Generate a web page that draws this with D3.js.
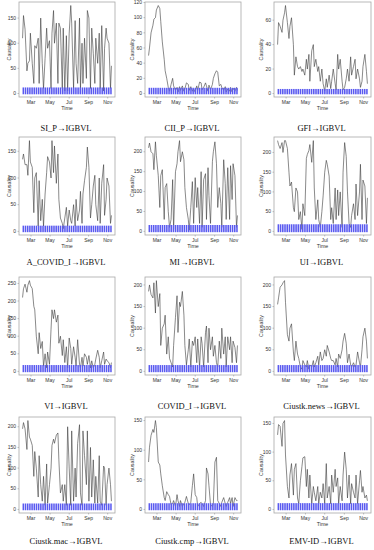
<!DOCTYPE html>
<html><head><meta charset="utf-8">
<script src="https://cdn.jsdelivr.net/npm/d3@7"></script>
<style>body{margin:0;background:#fff}svg{display:block}</style>
</head><body>
<svg id="c" width="374" height="550"></svg>
<script>
// ---------- data ----------
const titles = ["SI_P\u2192IGBVL","CII_P\u2192IGBVL","GFI\u2192IGBVL",
  "A_COVID_I\u2192IGBVL","MI\u2192IGBVL","UI\u2192IGBVL",
  "VI\u2192IGBVL","COVID_I\u2192IGBVL","Ciustk.news\u2192IGBVL",
  "Ciustk.mac\u2192IGBVL","Ciustk.cmp\u2192IGBVL","EMV-ID\u2192IGBVL"];
const startDate = "2020-02-03", endDate = "2020-11-13";
const monthTicks = ["2020-03-01","2020-05-01","2020-07-01","2020-09-01","2020-11-01"];
const monthLabels = ["Mar","May","Jul","Sep","Nov"];

const sSI_P = [110,155,128,45,60,65,120,60,20,95,90,110,20,150,60,10,70,130,90,105,10,120,165,100,140,20,140,130,10,130,5,115,5,120,175,140,10,145,60,20,150,10,100,20,110,30,165,150,10,130,80,20,110,60,120,10,135,5,90,130,110,100,10,55];
const sCII_P = [50,60,80,90,98,100,110,116,112,95,68,45,30,20,8,3,12,20,10,4,8,2,9,4,10,3,6,14,12,4,9,3,6,2,10,4,15,14,5,8,14,10,3,11,5,12,20,26,30,28,10,12,8,4,9,2,6,3,8,2,7,3,8,4];
const sGFI = [40,58,55,50,60,66,72,58,45,55,62,40,15,30,22,20,22,18,20,15,28,20,32,10,35,40,22,28,18,22,10,20,8,2,12,5,15,4,10,20,8,3,32,20,28,10,3,5,12,20,10,30,15,22,28,12,20,12,5,10,22,32,18,8];
const sA_COVID_I = [135,145,125,125,105,170,130,120,35,100,110,10,95,20,60,10,70,110,140,130,100,170,110,160,90,145,60,25,15,5,25,45,10,40,20,15,50,10,60,20,40,75,15,70,95,120,158,120,25,50,85,105,50,20,100,15,90,125,30,60,100,85,15,30];
const sMI = [210,222,200,195,155,225,190,140,60,140,155,30,110,120,50,10,30,130,5,150,170,200,228,175,200,180,110,60,30,3,60,125,20,135,60,110,20,150,10,130,145,30,160,90,20,175,200,225,170,60,110,70,10,180,120,30,160,30,165,80,170,140,10,40];
const sUI = [230,220,210,225,200,230,230,210,150,115,125,60,50,110,100,30,50,5,70,40,185,195,205,220,175,230,110,30,80,30,10,50,90,150,180,170,140,30,60,20,110,30,105,40,100,10,150,225,190,100,20,10,40,70,30,120,40,100,170,30,130,115,20,85];
const sVI = [210,235,248,225,245,258,245,235,185,175,100,50,110,65,85,15,50,10,55,20,120,175,150,175,140,160,80,100,45,90,25,70,10,95,65,20,70,40,15,90,20,10,40,15,50,40,20,45,10,30,10,20,35,60,40,10,30,55,20,35,30,25,10,25];
const sCOVID_I = [185,200,178,170,205,135,210,150,180,60,100,110,130,40,80,30,20,10,60,125,175,90,160,150,185,130,60,15,50,75,10,70,60,80,20,75,10,80,65,10,90,105,20,100,50,80,35,60,20,10,70,30,100,40,80,10,80,50,80,20,70,55,20,60];
const sNews = [155,170,195,200,205,210,160,85,70,100,110,45,25,70,40,30,10,5,25,15,10,25,5,15,10,25,10,20,35,15,45,25,30,50,35,60,45,30,25,25,15,30,10,40,30,50,70,88,65,20,40,15,10,20,10,15,45,20,10,50,80,100,70,30];
const sMac = [195,210,195,145,215,175,170,155,80,140,100,30,130,60,20,80,10,110,15,60,100,155,170,160,180,185,120,40,60,20,60,10,200,100,10,190,20,100,30,160,205,40,10,190,130,60,190,20,150,30,120,15,80,15,130,20,10,105,100,10,60,100,60,20];
const sCmp = [80,105,125,135,130,150,138,80,75,60,40,20,15,30,25,22,8,10,15,5,25,15,5,15,5,10,12,22,10,8,12,40,60,25,20,5,10,12,10,5,15,70,60,40,8,5,10,80,88,15,10,5,12,20,10,5,12,20,10,20,5,20,15,15];
const sEMV = [130,148,145,110,150,155,95,40,20,60,80,25,70,80,20,10,50,75,90,92,40,70,20,60,10,40,30,15,40,10,30,20,45,10,80,20,40,10,60,30,70,40,55,10,40,15,60,100,70,20,60,10,45,30,20,60,10,50,68,30,40,20,25,15];

const thresholds = [12, 7.5, 3.7, 10.7, 16, 18, 18, 14.6, 14.6, 14.4, 10.5, 11];
const yTicks = [[0,50,100,150],[0,20,40,60,80,100,120],[0,20,40,60],
  [0,50,100,150],[0,50,100,150,200],[0,50,100,150,200],
  [0,50,100,150,200,250],[0,50,100,150,200],[0,50,100,150,200],
  [0,50,100,150,200],[0,50,100,150],[0,50,100,150]];
const series = [sSI_P,sCII_P,sGFI,sA_COVID_I,sMI,sUI,sVI,sCOVID_I,sNews,sMac,sCmp,sEMV];

// ---------- layout ----------
const colX = [[19,115],[145,241],[274,371]];
const rowY = [[2,97],[137,235],[277,375],[417,513]];
const titleY = [131,265,409,544];
const ylabOff = [8,11,11];

const svg = d3.select("#c");
const parse = d3.utcParse("%Y-%m-%d");
const t0 = parse(startDate), t1 = parse(endDate);
const tradingDays = d3.utcDay.range(t0, d3.utcDay.offset(t1,1)).filter(d=>d.getUTCDay()>0&&d.getUTCDay()<6);
const weeks = d3.utcMonday.range(t0, d3.utcDay.offset(t1,1));
const span = t1 - t0;
const xDom = [new Date(+t0 - 0.04*span), new Date(+t1 + 0.04*span)];

series.forEach((s,k)=>{
  const col = k%3, row = Math.floor(k/3);
  const [x0,x1] = colX[col], [y0,y1] = rowY[row];
  const x = d3.scaleUtc().domain(xDom).range([x0,x1]);
  const hi = d3.max(s), lo = 0, pad = 0.04*(hi-lo);
  const y = d3.scaleLinear().domain([lo-pad, hi+pad]).range([y1,y0]);
  const g = svg.append("g");
  const n = tradingDays.length;
  const pts = s.map((v,i)=>[tradingDays[Math.round(i*(n-1)/(s.length-1))], v]);
  g.append("path").datum(pts)
    .attr("d", d3.line().x(d=>x(d[0])).y(d=>y(d[1])))
    .attr("fill","none").attr("stroke","#3a3a3a").attr("stroke-width",0.6);
  // threshold band by trading week
  g.selectAll("rect.b").data(weeks).join("rect")
    .attr("x", d=>x(d))
    .attr("width", d=>x(d3.utcHour.offset(d,118))-x(d))
    .attr("y", y(thresholds[k]))
    .attr("height", y(0)-y(thresholds[k])+0.8)
    .attr("fill","#5a5af0");
  // box
  g.append("rect").attr("x",x0).attr("y",y0).attr("width",x1-x0).attr("height",y1-y0)
    .attr("fill","none").attr("stroke","#a8a8a8").attr("stroke-width",0.8);
  // y axis
  const yt = yTicks[k].filter(v=>v>=y.domain()[0]&&v<=y.domain()[1]);
  yt.forEach(v=>{
    g.append("line").attr("x1",x0-1.5).attr("x2",x0).attr("y1",y(v)).attr("y2",y(v)).attr("stroke","#888").attr("stroke-width",0.5);
    g.append("text").attr("x",x0-3).attr("y",y(v)+1.7).attr("text-anchor","end")
      .attr("font-family","Liberation Sans, Arial, sans-serif").attr("font-size",5).attr("fill","#333").text(v);
  });
  // x axis
  monthTicks.forEach((m,i)=>{
    const xx = x(parse(m));
    g.append("line").attr("x1",xx).attr("x2",xx).attr("y1",y1).attr("y2",y1+1.5).attr("stroke","#888").attr("stroke-width",0.5);
    g.append("text").attr("x",xx).attr("y",y1+6.8).attr("text-anchor","middle")
      .attr("font-family","Liberation Sans, Arial, sans-serif").attr("font-size",5).attr("fill","#333").text(monthLabels[i]);
  });
  g.append("text").attr("x",(x0+x1)/2).attr("y",y1+13.2).attr("text-anchor","middle")
    .attr("font-family","Liberation Sans, Arial, sans-serif").attr("font-size",5.3).attr("fill","#333").text("Time");
  g.append("text").attr("transform",`translate(${x0-ylabOff[col]},${(y0+y1)/2}) rotate(-90)`)
    .attr("text-anchor","middle")
    .attr("font-family","Liberation Sans, Arial, sans-serif").attr("font-size",5.3).attr("fill","#333").text("Causality");
  g.append("text").attr("x",(x0+x1)/2 - 1).attr("y",titleY[row]).attr("text-anchor","middle")
    .attr("font-family","Liberation Serif, Times New Roman, serif").attr("font-size",8.5).attr("fill","#111").text(titles[k]);
});
</script>
</body></html>
